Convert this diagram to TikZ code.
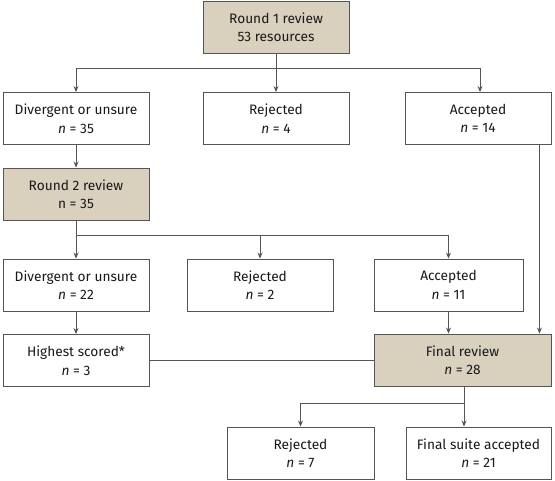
\documentclass[tikz,border=0pt]{standalone}
\usepackage{fontspec}
\setmainfont{Fira Sans}
\usetikzlibrary{arrows.meta}
\definecolor{tan}{RGB}{217,208,190}
\definecolor{edge}{RGB}{85,85,85}
\begin{document}
\begin{tikzpicture}[x=1pt,y=-1pt,
  box/.style={draw=edge,line width=0.9pt,fill=white,minimum width=146pt,minimum height=52pt,
    align=center,inner sep=0pt,font=\fontsize{13.7}{18.5}\selectfont,text=black!90},
  shaded/.style={box,fill=tan},
  conn/.style={draw=edge,line width=0.9pt},
  arr/.style={conn,-{Stealth[length=6pt,width=5pt]}}]
\useasboundingbox (0,0) rectangle (555,481);
\node[shaded] (r1) at (276,27) {Round 1 review\\53 resources};
\node[box] (div1) at (76,118.5) {Divergent or unsure\\\textit{n} = 35};
\node[box] (rej1) at (276,118.5) {Rejected\\\textit{n} = 4};
\node[box] (acc1) at (478,118.5) {Accepted\\\textit{n} = 14};
\node[shaded] (r2) at (76,194) {Round 2 review\\n = 35};
\node[box] (div2) at (76,285) {Divergent or unsure\\\textit{n} = 22};
\node[box] (rej2) at (260,285) {Rejected\\\textit{n} = 2};
\node[box,minimum width=149pt] (acc2) at (448.5,285) {Accepted\\\textit{n} = 11};
\node[box] (hs) at (76,360.5) {Highest scored*\\\textit{n} = 3};
\node[shaded,minimum width=177pt] (fr) at (462.5,360) {Final review\\\textit{n} = 28};
\node[box,minimum width=147pt] (rej3) at (300.5,453) {Rejected\\\textit{n} = 7};
\node[box,minimum width=145pt] (fs) at (478.5,453) {Final suite accepted\\\textit{n} = 21};
\coordinate (j1) at (276,68);
\coordinate (j2) at (76,235);
\coordinate (j3) at (464,403);
\draw[arr] (r1) -- (rej1);
\draw[arr] (j1) -| (div1);
\draw[arr] (j1) -| ([xshift=2pt]acc1.north);
\draw[arr] (div1) -- (r2);
\draw[conn] (r2) -- (j2);
\draw[arr] (j2) -- (div2);
\draw[arr] (j2) -| (rej2);
\draw[arr] (j2) -| (acc2);
\draw[arr] (acc2) -- (acc2.south |- fr.north);
\draw[arr] ([xshift=-12pt]acc1.south east) -- ([xshift=-12pt]fr.north east);
\draw[arr] (div2) -- (hs);
\draw[conn] (hs) -- (hs -| fr.west);
\draw[conn] (fr.south -| j3) -- (j3);
\draw[arr] (j3) -| (rej3);
\draw[arr] (j3) -- (j3 |- fs.north);
\end{tikzpicture}
\end{document}
